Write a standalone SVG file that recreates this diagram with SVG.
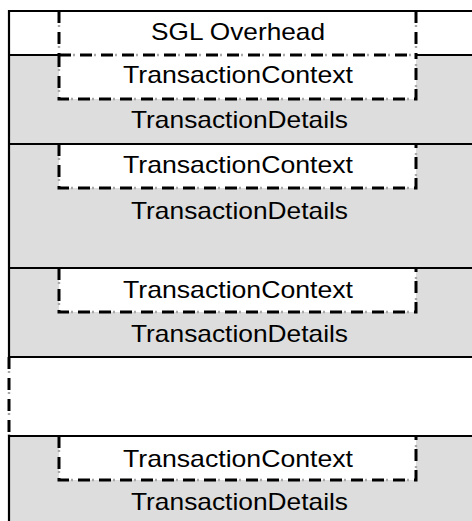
<svg xmlns="http://www.w3.org/2000/svg" width="472" height="521" viewBox="0 0 472 521">
<style>
.bg{fill:#dddddd;stroke:none}
.wb{fill:#ffffff;stroke:none}
.solid{stroke:#000;stroke-width:2.2;fill:none}
.dsh{stroke:#000;stroke-width:3;fill:none;stroke-dasharray:12 9}
.dshg{stroke:#a8a8a8;stroke-width:2.4;fill:none;stroke-dasharray:0 14 2 5}
.t{font-family:"Liberation Sans",Arial,sans-serif;font-size:24px;fill:#000;text-anchor:middle}
</style>
<rect x="0" y="0" width="472" height="521" fill="#ffffff"/>
<g id="sgl-overhead">
  <path class="dshg" d="M59,11 V55 M416,11 V55"/>
  <path class="dsh" d="M59,11 V55 M416,11 V55"/>
  <text class="t" x="238" y="40" textLength="174" lengthAdjust="spacingAndGlyphs">SGL Overhead</text>
</g>
<g id="transaction-1">
  <rect class="bg" x="10" y="55" width="462" height="89"/>
  <rect class="wb" x="59" y="55" width="357" height="44"/>
  <path class="dshg" d="M59,55 V99 H416 V55 M59,55 H416"/>
  <path class="dsh" d="M59,55 V99 H416 V55 M59,55 H416"/>
  <text class="t" x="238" y="83" textLength="230" lengthAdjust="spacingAndGlyphs">TransactionContext</text>
  <text class="t" x="239.5" y="128" textLength="217" lengthAdjust="spacingAndGlyphs">TransactionDetails</text>
</g>
<g id="transaction-2">
  <rect class="bg" x="10" y="144" width="462" height="124"/>
  <rect class="wb" x="59" y="144" width="357" height="44"/>
  <path class="dshg" d="M59,144 V188 H416 V144"/>
  <path class="dsh" d="M59,144 V188 H416 V144"/>
  <text class="t" x="238" y="173" textLength="230" lengthAdjust="spacingAndGlyphs">TransactionContext</text>
  <text class="t" x="239.5" y="219" textLength="217" lengthAdjust="spacingAndGlyphs">TransactionDetails</text>
</g>
<g id="transaction-3">
  <rect class="bg" x="10" y="268" width="462" height="89"/>
  <rect class="wb" x="59" y="268" width="357" height="44"/>
  <path class="dshg" d="M59,268 V312 H416 V268"/>
  <path class="dsh" d="M59,268 V312 H416 V268"/>
  <text class="t" x="238" y="298" textLength="230" lengthAdjust="spacingAndGlyphs">TransactionContext</text>
  <text class="t" x="239.5" y="342" textLength="217" lengthAdjust="spacingAndGlyphs">TransactionDetails</text>
</g>
<g id="gap">
  <path class="dshg" d="M9,357 V436"/>
  <path class="dsh" d="M9,357 V436"/>
</g>
<g id="transaction-n">
  <rect class="bg" x="10" y="436" width="462" height="85"/>
  <rect class="wb" x="59" y="436" width="357" height="44"/>
  <path class="dshg" d="M59,436 V480 H416 V436"/>
  <path class="dsh" d="M59,436 V480 H416 V436"/>
  <text class="t" x="238" y="467" textLength="230" lengthAdjust="spacingAndGlyphs">TransactionContext</text>
  <text class="t" x="239.5" y="510" textLength="217" lengthAdjust="spacingAndGlyphs">TransactionDetails</text>
</g>
<g id="frame">
  <path class="solid" d="M9,357 V10 M8,11 H472 M9,55 H60 M415,55 H472 M9,144 H472 M9,268 H472 M9,357 H472 M9,436 H472 M9,435 V521"/>
</g>
</svg>
